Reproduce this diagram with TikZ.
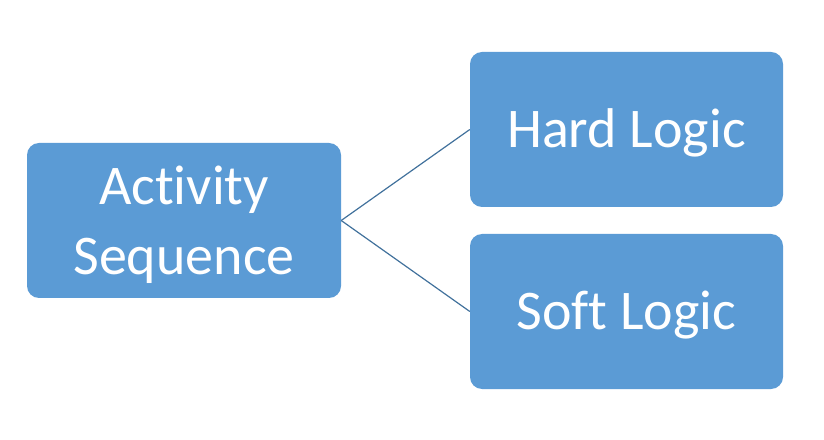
\documentclass[tikz,border=0pt]{standalone}
\usepackage{fontspec}
\setmainfont{Carlito}[Ligatures={NoCommon}]
\begin{document}
\begin{tikzpicture}[x=1pt,y=1pt,
  box/.style={fill={rgb,255:red,91;green,155;blue,213},draw=none,rounded corners=12pt,text=white,align=center,font=\fontsize{56}{70}\selectfont},
  link/.style={draw={rgb,255:red,65;green,113;blue,156},line width=1.2pt}]
\useasboundingbox (0,0) rectangle (824,439);
\node[box,minimum width=314pt,minimum height=155pt] (a) at (184,218.5) {};
\node[box,anchor=center,fill=none,inner sep=0pt] at (184,214) {Activity\\Sequence};
\node[box,minimum width=313pt,minimum height=155pt] (h) at (626.5,309.5) {};
\node[box,fill=none,inner sep=0pt] at (626.5,306) {Hard Logic};
\node[box,minimum width=313pt,minimum height=155pt] (s) at (626.5,127.5) {};
\node[box,fill=none,inner sep=0pt] at (626.5,124) {Soft Logic};
\draw[link] (a.east) -- (h.west);
\draw[link] (a.east) -- (s.west);
\end{tikzpicture}
\end{document}
